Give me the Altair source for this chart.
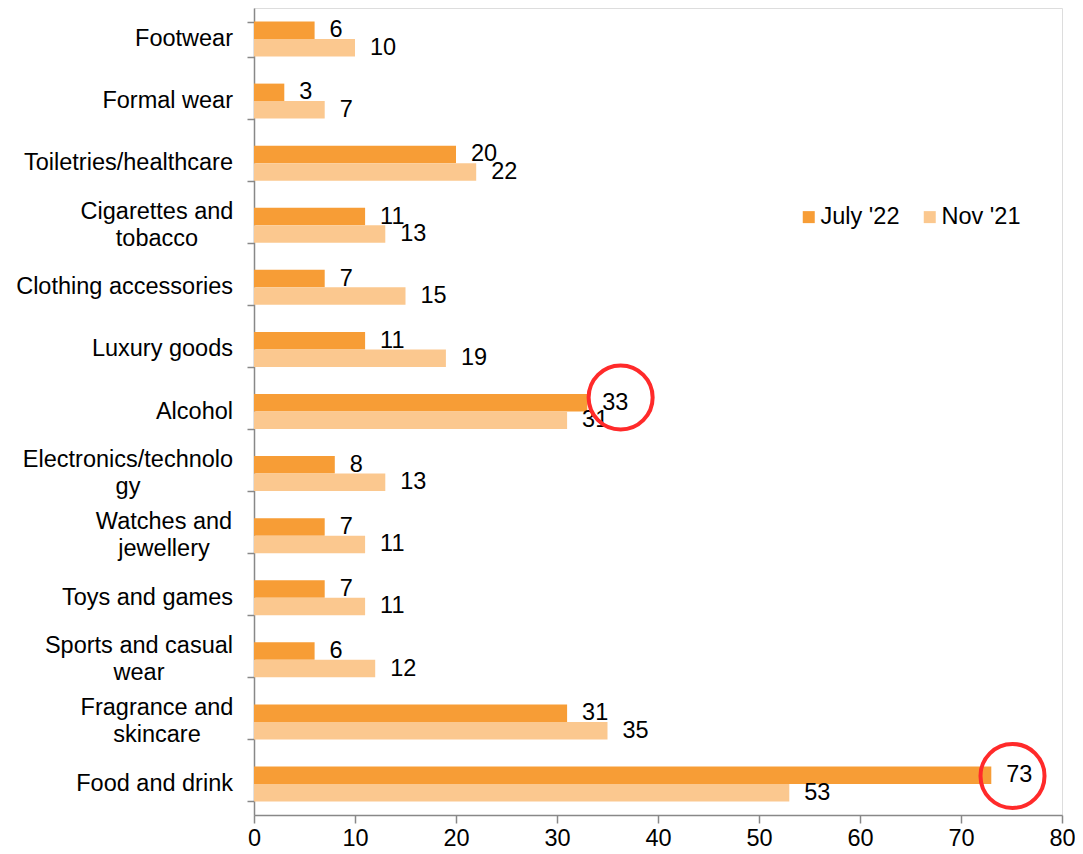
import altair as alt
import pandas as pd

categories = [
    "Footwear", "Formal wear", "Toiletries/healthcare", "Cigarettes and|tobacco",
    "Clothing accessories", "Luxury goods", "Alcohol", "Electronics/technolo|gy",
    "Watches and|jewellery", "Toys and games", "Sports and casual|wear",
    "Fragrance and|skincare", "Food and drink",
]
july_22 = [6, 3, 20, 11, 7, 11, 33, 8, 7, 7, 6, 31, 73]
nov_21 = [10, 7, 22, 13, 15, 19, 31, 13, 11, 11, 12, 35, 53]
series_names = ["July '22", "Nov '21"]
series_colors = ["#F79D36", "#FBC88F"]

# highlighted values (red circles)
circle_categories = ["Alcohol", "Food and drink"]
circle_values = [36.3, 75.1]

x_ticks = [0, 10, 20, 30, 40, 50, 60, 70, 80]

rows = []
for c, a, b in zip(categories, july_22, nov_21):
    rows.append({"category": c, "series": series_names[0], "value": a})
    rows.append({"category": c, "series": series_names[1], "value": b})
df = pd.DataFrame(rows)

FONT = "Liberation Sans"
FS = 23.5
LABEL_GAP = 21  # tick + padding, px left of the axis line

# styling: half width (px) of the widest line of each two-line label, so that
# the lines can be centred on one another as in the original
half_width = {
    "Cigarettes and|tobacco": 76,
    "Electronics/technolo|gy": 105,
    "Watches and|jewellery": 69,
    "Sports and casual|wear": 94,
    "Fragrance and|skincare": 76,
}
single_df = pd.DataFrame({"category": [c for c in categories if "|" not in c]})
multi_df = pd.DataFrame({
    "category": [c for c in categories if "|" in c],
    "lx": [-LABEL_GAP - half_width[c] for c in categories if "|" in c],
})

y_enc = alt.Y(
    "category:N", sort=categories, title=None,
    scale=alt.Scale(paddingInner=0.436, paddingOuter=0.218),
    axis=alt.Axis(
        labels=False, tickSize=7, tickBand="extent", domainColor="#888888",
        tickColor="#888888", domainWidth=1.5, tickWidth=1.5,
    ),
)
x_enc = alt.X(
    "value:Q", title=None,
    scale=alt.Scale(domain=[0, 80], nice=False),
    axis=alt.Axis(
        values=x_ticks, grid=False, labelFont=FONT, labelFontSize=FS,
        labelColor="black", tickSize=8, labelPadding=3, labelFlush=False,
        domainColor="#888888", tickColor="#888888", domainWidth=1.5, tickWidth=1.5,
    ),
)
yoff = alt.YOffset("series:N", sort=series_names, scale=alt.Scale(paddingInner=0, paddingOuter=0))

bars = alt.Chart(df).mark_bar().encode(
    y=y_enc, x=x_enc, yOffset=yoff,
    color=alt.Color(
        "series:N", sort=series_names,
        scale=alt.Scale(domain=series_names, range=series_colors),
        legend=alt.Legend(
            title=None, orient="none", legendX=543, legendY=197, direction="horizontal",
            symbolType="square", symbolSize=144, symbolStrokeWidth=0,
            labelFont=FONT, labelFontSize=FS, labelColor="black", labelOffset=0,
            columnPadding=18, padding=0,
        ),
    ),
)

texts = alt.Chart(df).mark_text(
    align="left", baseline="middle", dx=15, font=FONT, fontSize=FS, color="black"
).encode(
    y=alt.Y("category:N", sort=categories), x="value:Q", yOffset=yoff,
    text="value:Q",
)

single_labels = alt.Chart(single_df).mark_text(
    align="right", baseline="middle", font=FONT, fontSize=FS, color="black"
).encode(
    y=alt.Y("category:N", sort=categories), x=alt.value(-LABEL_GAP),
    text="category:N",
)

multi_labels = alt.Chart(multi_df).transform_calculate(
    lines="split(datum.category, '|')"
).mark_text(
    align="center", baseline="middle", font=FONT, fontSize=FS, color="black",
    lineHeight=27, dy=-13.5,
).encode(
    y=alt.Y("category:N", sort=categories), x=alt.X("lx:Q", scale=None),
    text="lines:N",
)

layers = [bars, texts, single_labels, multi_labels]
circle_dy = {"Alcohol": -14, "Food and drink": -8}
for cat, val in zip(circle_categories, circle_values):
    cdf = pd.DataFrame({"category": [cat], "value": [val]})
    layers.append(
        alt.Chart(cdf).mark_point(
            shape="circle", filled=False, stroke="#FF2A2A", strokeWidth=4,
            size=4100, yOffset=circle_dy[cat], opacity=1,
        ).encode(y=alt.Y("category:N", sort=categories), x="value:Q")
    )

chart = alt.layer(*layers).properties(
    width=808, height=807,
    autosize=alt.AutoSizeParams(type="none"),
    padding={"left": 246, "top": 0, "right": 13, "bottom": 38},
).configure_view(stroke=None).configure(background="white")

chart.save("out.html", embed_options={"renderer": "svg", "actions": False})
